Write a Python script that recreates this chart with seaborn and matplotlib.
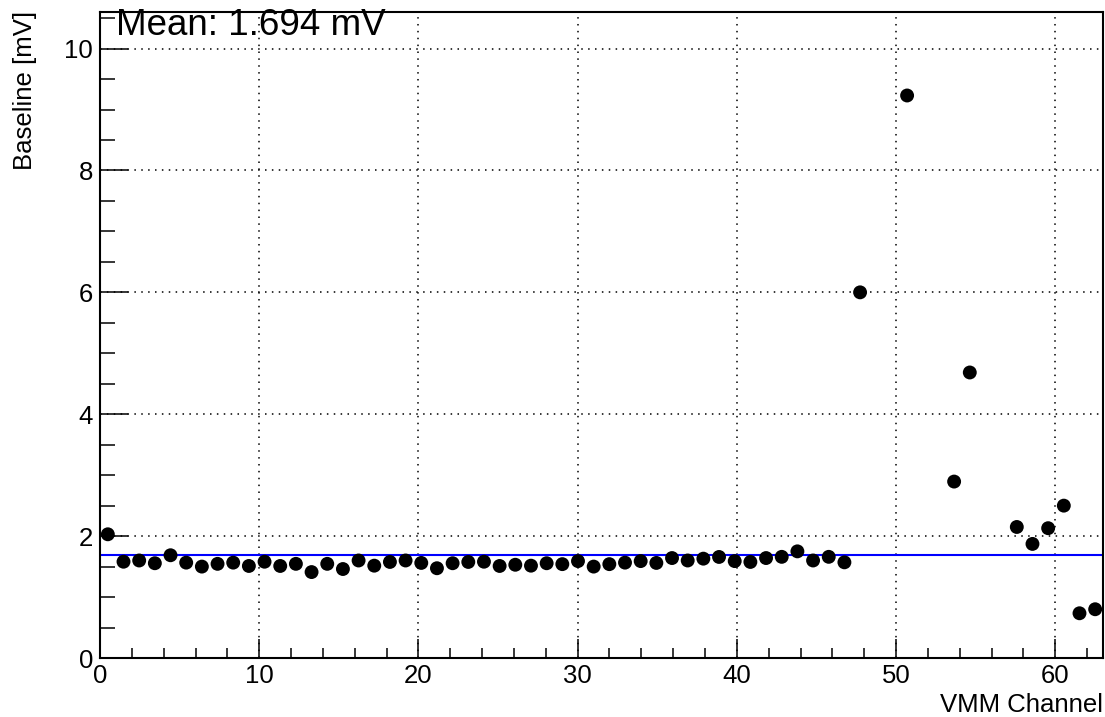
import numpy as np
import pandas as pd
import matplotlib
matplotlib.use("Agg")
import matplotlib.pyplot as plt
from matplotlib.ticker import MultipleLocator
import seaborn as sns

# Baseline per VMM channel (mV); NaN = channel without a measurement
channels = list(range(64))
baseline_mv = [
    2.03, 1.58, 1.60, 1.555, 1.686, 1.565, 1.50, 1.545, 1.565, 1.51,
    1.58, 1.51, 1.545, 1.41, 1.545, 1.46, 1.60, 1.515, 1.576, 1.60,
    1.56, 1.473, 1.555, 1.576, 1.58, 1.51, 1.53, 1.515, 1.555, 1.54,
    1.59, 1.50, 1.54, 1.565, 1.59, 1.56, 1.64, 1.60, 1.63, 1.658,
    1.59, 1.576, 1.64, 1.66, 1.75, 1.60, 1.66, 1.57, 6.00, np.nan,
    np.nan, 9.23, np.nan, np.nan, 2.895, 4.685, np.nan, np.nan, 2.15, 1.872,
    2.13, 2.50, 0.734, 0.80,
]
mean_mv = 1.694

x_range = (0, 63)
y_range = (0, 10.6)

# 64 equal-width channel bins spread over the axis range; points sit at bin centres
edges = np.linspace(x_range[0], x_range[1], len(channels) + 1)
centres = 0.5 * (edges[:-1] + edges[1:])

df = pd.DataFrame({"channel": channels, "x": centres[channels], "baseline": baseline_mv}).dropna()

sns.set_style("white")
plt.rcParams["font.family"] = ["Liberation Sans", "DejaVu Sans"]
plt.rcParams["text.color"] = "black"
plt.rcParams["axes.labelcolor"] = "black"
plt.rcParams["xtick.color"] = "black"
plt.rcParams["ytick.color"] = "black"

fig = plt.figure(figsize=(11.05, 7.17), dpi=100)
ax = fig.add_axes([100 / 1105, 1 - 658 / 717, 1003 / 1105, 646 / 717])

ax.grid(True, which="major", color="black", linestyle=(0, (1, 3.5)), linewidth=1.1)
ax.set_axisbelow(True)

ax.axhline(mean_mv, color="#0000ff", linewidth=1.5, zorder=2)
sns.scatterplot(data=df, x="x", y="baseline", ax=ax, color="black", s=100,
                edgecolor="none", linewidth=0, zorder=3, legend=False)

ax.set_xlim(*x_range)
ax.set_ylim(*y_range)

ax.xaxis.set_major_locator(MultipleLocator(10))
ax.xaxis.set_minor_locator(MultipleLocator(2))
ax.yaxis.set_major_locator(MultipleLocator(2))
ax.yaxis.set_minor_locator(MultipleLocator(0.5))

ax.tick_params(axis="both", which="both", direction="in", bottom=True, left=True,
               top=False, right=False, colors="black", labelcolor="black",
               labelsize=18.5, width=1.1)
ax.tick_params(axis="y", which="major", length=20, pad=5)
ax.tick_params(axis="y", which="minor", length=10.8)
ax.tick_params(axis="x", which="major", length=13.5, pad=4)
ax.tick_params(axis="x", which="minor", length=7.2)

for side in ["left", "bottom", "top", "right"]:
    ax.spines[side].set_visible(True)
    ax.spines[side].set_color("black")
    ax.spines[side].set_linewidth(1.5)

ax.set_xlabel("")
ax.set_ylabel("")
fig.text(1103 / 1105, 1 - 705 / 717, "VMM Channel", ha="right", va="center",
         fontsize=18.5, color="black")
fig.text(25 / 1105, 1 - 11 / 717, "Baseline [mV]", ha="center", va="top",
         rotation=90, fontsize=18.5, color="black")

fig.text(116 / 1105, 1 - 35 / 717, f"Mean: {mean_mv:.3f} mV", ha="left", va="baseline",
         fontsize=26.5, color="black")

fig.savefig("out.png", dpi=100, facecolor="white")
